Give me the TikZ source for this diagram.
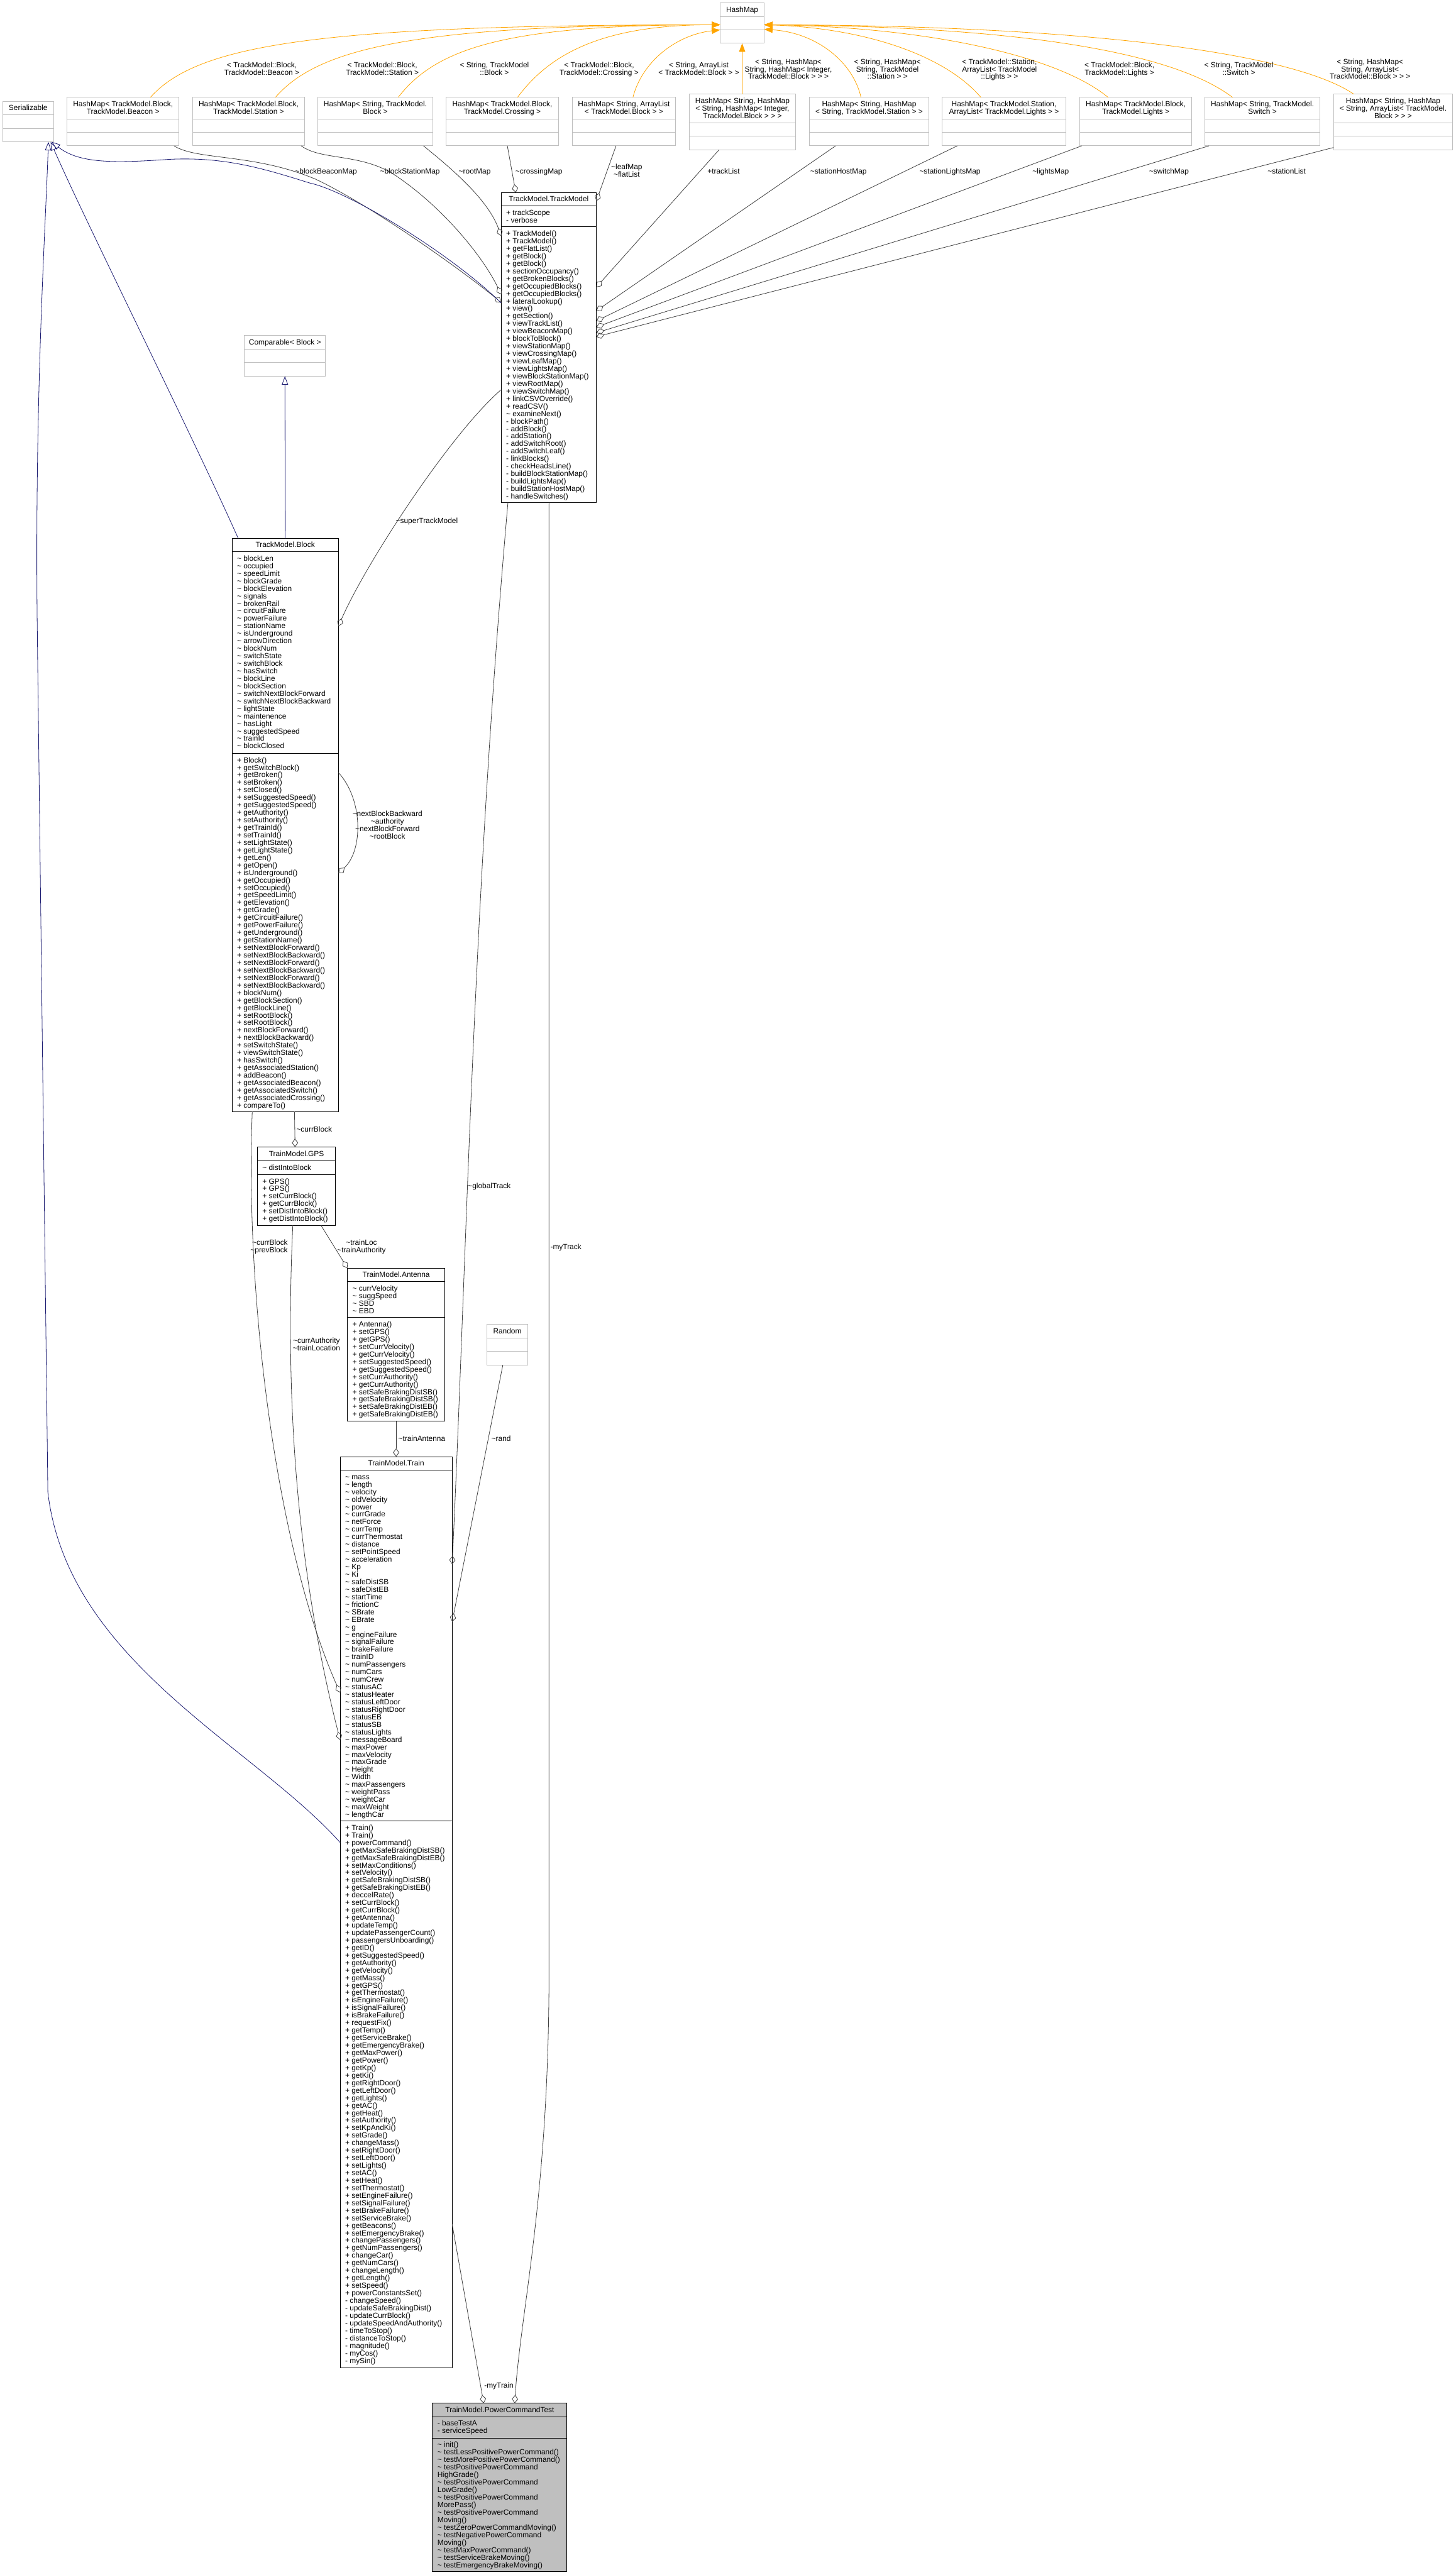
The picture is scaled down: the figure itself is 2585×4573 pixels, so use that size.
\documentclass[tikz,border=0pt]{standalone}
\usepackage{fontspec}
\setmainfont{Liberation Sans}
\usetikzlibrary{arrows.meta}
\definecolor{grey25}{HTML}{404040}
\definecolor{grey75}{HTML}{BFBFBF}
\definecolor{navy}{HTML}{191970}
\definecolor{orng}{HTML}{FFA500}
\newcommand\cf{\fontsize{13.3}{13.33}\selectfont}
\newcommand\Rs{\rule{0pt}{10.2pt}}
\newcommand\tl{\textasciitilde}
\newcommand\cbox[8]{%
 \node[#8, anchor=north west, minimum width=#4pt, minimum height={#7pt-#3pt}] (#1) at (#2,#3) {};
 \draw[#8 sep] (#2,#5) -- ++(#4,0);
 \draw[#8 sep] (#2,#6) -- ++(#4,0);
}
\newcommand\ctitle[5]{\node[txt, align=center, anchor=north] (#1) at (#2,{#3-(#4-1)*6.665-5.9}) {\Rs#5};}
\newcommand\csec[4]{\node[txt, align=left, anchor=north west] (#1) at ({#2+9},{#3+6.1}) {\Rs#4};}
\tikzset{
 txt/.style={font=\cf, inner sep=0pt, outer sep=0pt},
 doc/.style={draw=black, line width=1.1pt, fill=white, inner sep=0pt, outer sep=0pt},
 doc sep/.style={draw=black, line width=1.1pt},
 undoc/.style={draw=grey75, line width=1.1pt, fill=white, inner sep=0pt, outer sep=0pt},
 undoc sep/.style={draw=grey75, line width=1.1pt},
 tst/.style={draw=black, line width=1.1pt, fill=grey75, inner sep=0pt, outer sep=0pt},
 tst sep/.style={draw=black, line width=1.1pt},
 agg/.style={draw=grey25, line width=0.9pt, -{Diamond[open, length=15pt, width=11pt]}},
 gen/.style={draw=navy, line width=0.9pt, -{Triangle[open, length=15pt, width=11pt]}},
 tmpl/.style={draw=orng, line width=0.9pt, -{Triangle[length=15pt, width=11pt]}},
}
\begin{document}
\begin{tikzpicture}[x=1pt, y=-1pt]
\fill[white] (0,0) rectangle (2585,4573);
\useasboundingbox (0,0) rectangle (2585,4573);

% ---------- top row ----------
\cbox{hashmap}{1279}{5}{78}{30}{53.5}{77}{undoc}
\ctitle{hashmap-t}{1318}{17.5}{1}{HashMap}

\cbox{ser}{5}{180}{90}{204}{228}{252}{undoc}
\ctitle{ser-t}{50}{192}{1}{Serializable}

\cbox{hbeacon}{119}{173}{199}{211}{235}{259}{undoc}
\ctitle{hbeacon-t}{218.5}{192}{2}{HashMap< TrackModel.Block,\\TrackModel.Beacon >}
\cbox{hbstation}{342}{173}{199}{211}{235}{259}{undoc}
\ctitle{hbstation-t}{441.5}{192}{2}{HashMap< TrackModel.Block,\\TrackModel.Station >}
\cbox{hsblock}{564}{173}{205}{211}{235}{259}{undoc}
\ctitle{hsblock-t}{666.5}{192}{2}{HashMap< String, TrackModel.\\Block >}
\cbox{hcross}{792}{173}{200}{211}{235}{259}{undoc}
\ctitle{hcross-t}{892}{192}{2}{HashMap< TrackModel.Block,\\TrackModel.Crossing >}
\cbox{hsalist}{1016}{173}{184}{211}{235}{259}{undoc}
\ctitle{hsalist-t}{1108}{192}{2}{HashMap< String, ArrayList\\< TrackModel.Block > >}
\cbox{hshint}{1224}{167}{189}{218}{242}{266}{undoc}
\ctitle{hshint-t}{1318.5}{192.5}{3}{HashMap< String, HashMap\\< String, HashMap< Integer,\\TrackModel.Block > > >}
\cbox{hshstat}{1437}{173}{213}{211}{235}{259}{undoc}
\ctitle{hshstat-t}{1543.5}{192}{2}{HashMap< String, HashMap\\< String, TrackModel.Station > >}
\cbox{hstalights}{1673}{173}{220}{211}{235}{259}{undoc}
\ctitle{hstalights-t}{1783}{192}{2}{HashMap< TrackModel.Station,\\ArrayList< TrackModel.Lights > >}
\cbox{hblights}{1918}{173}{198}{211}{235}{259}{undoc}
\ctitle{hblights-t}{2017}{192}{2}{HashMap< TrackModel.Block,\\TrackModel.Lights >}
\cbox{hsswitch}{2140}{173}{204}{211}{235}{259}{undoc}
\ctitle{hsswitch-t}{2242}{192}{2}{HashMap< String, TrackModel.\\Switch >}
\cbox{hshalist}{2368}{167}{212}{218}{242}{266}{undoc}
\ctitle{hshalist-t}{2474}{192.5}{3}{HashMap< String, HashMap\\< String, ArrayList< TrackModel.\\Block > > >}

% ---------- TrackModel ----------
\cbox{tm}{890}{342}{169}{366}{403}{893}{doc}
\ctitle{tm-t}{974.5}{354}{1}{TrackModel.TrackModel}
\csec{tm-a}{890}{366}{+ trackScope\\- verbose}
\csec{tm-m}{890}{403}{+ TrackModel()\\+ TrackModel()\\+ getFlatList()\\+ getBlock()\\+ getBlock()\\+ sectionOccupancy()\\+ getBrokenBlocks()\\+ getOccupiedBlocks()\\+ getOccupiedBlocks()\\+ lateralLookup()\\+ view()\\+ getSection()\\+ viewTrackList()\\+ viewBeaconMap()\\+ blockToBlock()\\+ viewStationMap()\\+ viewCrossingMap()\\+ viewLeafMap()\\+ viewLightsMap()\\+ viewBlockStationMap()\\+ viewRootMap()\\+ viewSwitchMap()\\+ linkCSVOverride()\\+ readCSV()\\\tl{} examineNext()\\- blockPath()\\- addBlock()\\- addStation()\\- addSwitchRoot()\\- addSwitchLeaf()\\- linkBlocks()\\- checkHeadsLine()\\- buildBlockStationMap()\\- buildLightsMap()\\- buildStationHostMap()\\- handleSwitches()}

% ---------- Comparable ----------
\cbox{cmp}{434}{596}{144}{620}{644}{668}{undoc}
\ctitle{cmp-t}{506}{608}{1}{Comparable< Block >}

% ---------- Block ----------
\cbox{blk}{412}{956}{189}{980}{1338}{1974}{doc}
\ctitle{blk-t}{506.5}{968}{1}{TrackModel.Block}
\csec{blk-a}{412}{980}{\tl{} blockLen\\\tl{} occupied\\\tl{} speedLimit\\\tl{} blockGrade\\\tl{} blockElevation\\\tl{} signals\\\tl{} brokenRail\\\tl{} circuitFailure\\\tl{} powerFailure\\\tl{} stationName\\\tl{} isUnderground\\\tl{} arrowDirection\\\tl{} blockNum\\\tl{} switchState\\\tl{} switchBlock\\\tl{} hasSwitch\\\tl{} blockLine\\\tl{} blockSection\\\tl{} switchNextBlockForward\\\tl{} switchNextBlockBackward\\\tl{} lightState\\\tl{} maintenence\\\tl{} hasLight\\\tl{} suggestedSpeed\\\tl{} trainId\\\tl{} blockClosed}
\csec{blk-m}{412}{1338}{+ Block()\\+ getSwitchBlock()\\+ getBroken()\\+ setBroken()\\+ setClosed()\\+ setSuggestedSpeed()\\+ getSuggestedSpeed()\\+ getAuthority()\\+ setAuthority()\\+ getTrainId()\\+ setTrainId()\\+ setLightState()\\+ getLightState()\\+ getLen()\\+ getOpen()\\+ isUnderground()\\+ getOccupied()\\+ setOccupied()\\+ getSpeedLimit()\\+ getElevation()\\+ getGrade()\\+ getCircuitFailure()\\+ getPowerFailure()\\+ getUnderground()\\+ getStationName()\\+ setNextBlockForward()\\+ setNextBlockBackward()\\+ setNextBlockForward()\\+ setNextBlockBackward()\\+ setNextBlockForward()\\+ setNextBlockBackward()\\+ blockNum()\\+ getBlockSection()\\+ getBlockLine()\\+ setRootBlock()\\+ setRootBlock()\\+ nextBlockForward()\\+ nextBlockBackward()\\+ setSwitchState()\\+ viewSwitchState()\\+ hasSwitch()\\+ getAssociatedStation()\\+ addBeacon()\\+ getAssociatedBeacon()\\+ getAssociatedSwitch()\\+ getAssociatedCrossing()\\+ compareTo()}

% ---------- GPS ----------
\cbox{gps}{457}{2037}{139}{2061.5}{2086}{2176}{doc}
\ctitle{gps-t}{526.5}{2049.5}{1}{TrainModel.GPS}
\csec{gps-a}{457}{2061.5}{\tl{} distIntoBlock}
\csec{gps-m}{457}{2086}{+ GPS()\\+ GPS()\\+ setCurrBlock()\\+ getCurrBlock()\\+ setDistIntoBlock()\\+ getDistIntoBlock()}

% ---------- Antenna ----------
\cbox{ant}{617}{2252}{173}{2276}{2340}{2524}{doc}
\ctitle{ant-t}{703.5}{2264}{1}{TrainModel.Antenna}
\csec{ant-a}{617}{2276}{\tl{} currVelocity\\\tl{} suggSpeed\\\tl{} SBD\\\tl{} EBD}
\csec{ant-m}{617}{2340}{+ Antenna()\\+ setGPS()\\+ getGPS()\\+ setCurrVelocity()\\+ getCurrVelocity()\\+ setSuggestedSpeed()\\+ getSuggestedSpeed()\\+ setCurrAuthority()\\+ getCurrAuthority()\\+ setSafeBrakingDistSB()\\+ getSafeBrakingDistSB()\\+ setSafeBrakingDistEB()\\+ getSafeBrakingDistEB()}

% ---------- Random ----------
\cbox{rnd}{865}{2352}{72}{2376}{2400}{2424}{undoc}
\ctitle{rnd-t}{901}{2364}{1}{Random}

% ---------- Train ----------
\cbox{train}{604}{2587}{199}{2611}{3234}{4205}{doc}
\ctitle{train-t}{703.5}{2599}{1}{TrainModel.Train}
\csec{train-a}{604}{2611}{\tl{} mass\\\tl{} length\\\tl{} velocity\\\tl{} oldVelocity\\\tl{} power\\\tl{} currGrade\\\tl{} netForce\\\tl{} currTemp\\\tl{} currThermostat\\\tl{} distance\\\tl{} setPointSpeed\\\tl{} acceleration\\\tl{} Kp\\\tl{} Ki\\\tl{} safeDistSB\\\tl{} safeDistEB\\\tl{} startTime\\\tl{} frictionC\\\tl{} SBrate\\\tl{} EBrate\\\tl{} g\\\tl{} engineFailure\\\tl{} signalFailure\\\tl{} brakeFailure\\\tl{} trainID\\\tl{} numPassengers\\\tl{} numCars\\\tl{} numCrew\\\tl{} statusAC\\\tl{} statusHeater\\\tl{} statusLeftDoor\\\tl{} statusRightDoor\\\tl{} statusEB\\\tl{} statusSB\\\tl{} statusLights\\\tl{} messageBoard\\\tl{} maxPower\\\tl{} maxVelocity\\\tl{} maxGrade\\\tl{} Height\\\tl{} Width\\\tl{} maxPassengers\\\tl{} weightPass\\\tl{} weightCar\\\tl{} maxWeight\\\tl{} lengthCar}
\csec{train-m}{604}{3234}{+ Train()\\+ Train()\\+ powerCommand()\\+ getMaxSafeBrakingDistSB()\\+ getMaxSafeBrakingDistEB()\\+ setMaxConditions()\\+ setVelocity()\\+ getSafeBrakingDistSB()\\+ getSafeBrakingDistEB()\\+ deccelRate()\\+ setCurrBlock()\\+ getCurrBlock()\\+ getAntenna()\\+ updateTemp()\\+ updatePassengerCount()\\+ passengersUnboarding()\\+ getID()\\+ getSuggestedSpeed()\\+ getAuthority()\\+ getVelocity()\\+ getMass()\\+ getGPS()\\+ getThermostat()\\+ isEngineFailure()\\+ isSignalFailure()\\+ isBrakeFailure()\\+ requestFix()\\+ getTemp()\\+ getServiceBrake()\\+ getEmergencyBrake()\\+ getMaxPower()\\+ getPower()\\+ getKp()\\+ getKi()\\+ getRightDoor()\\+ getLeftDoor()\\+ getLights()\\+ getAC()\\+ getHeat()\\+ setAuthority()\\+ setKpAndKi()\\+ setGrade()\\+ changeMass()\\+ setRightDoor()\\+ setLeftDoor()\\+ setLights()\\+ setAC()\\+ setHeat()\\+ setThermostat()\\+ setEngineFailure()\\+ setSignalFailure()\\+ setBrakeFailure()\\+ setServiceBrake()\\+ getBeacons()\\+ setEmergencyBrake()\\+ changePassengers()\\+ getNumPassengers()\\+ changeCar()\\+ getNumCars()\\+ changeLength()\\+ getLength()\\+ setSpeed()\\+ powerConstantsSet()\\- changeSpeed()\\- updateSafeBrakingDist()\\- updateCurrBlock()\\- updateSpeedAndAuthority()\\- timeToStop()\\- distanceToStop()\\- magnitude()\\- myCos()\\- mySin()}

% ---------- PowerCommandTest ----------
\cbox{pct}{768}{4268}{239}{4292}{4330}{4567}{tst}
\ctitle{pct-t}{887.5}{4280}{1}{TrainModel.PowerCommandTest}
\csec{pct-a}{768}{4292}{- baseTestA\\- serviceSpeed}
\csec{pct-m}{768}{4330}{\tl{} init()\\\tl{} testLessPositivePowerCommand()\\\tl{} testMorePositivePowerCommand()\\\tl{} testPositivePowerCommand\\HighGrade()\\\tl{} testPositivePowerCommand\\LowGrade()\\\tl{} testPositivePowerCommand\\MorePass()\\\tl{} testPositivePowerCommand\\Moving()\\\tl{} testZeroPowerCommandMoving()\\\tl{} testNegativePowerCommand\\Moving()\\\tl{} testMaxPowerCommand()\\\tl{} testServiceBrakeMoving()\\\tl{} testEmergencyBrakeMoving()}

% ---------- template instance edges (orange) ----------
\draw[tmpl] ([xshift=148pt]hbeacon.north west) .. controls (350,80) and (560,44) .. ([yshift=-39pt]hashmap.north west);
\draw[tmpl] ([xshift=147pt]hbstation.north west) .. controls (565,85) and (740,44) .. ([yshift=-39pt]hashmap.north west);
\draw[tmpl] ([xshift=143pt]hsblock.north west) .. controls (775,85) and (900,44) .. ([yshift=-39pt]hashmap.north west);
\draw[tmpl] ([xshift=127pt]hcross.north west) .. controls (980,90) and (1080,44) .. ([yshift=-39pt]hashmap.north west);
\draw[tmpl] ([xshift=108pt]hsalist.north west) .. controls (1140,110) and (1200,62) .. ([yshift=-48pt]hashmap.north west);
\draw[tmpl] ([xshift=94pt]hshint.north west) -- (hashmap.south);
\draw[tmpl] ([xshift=92pt]hshstat.north west) .. controls (1515,110) and (1450,58) .. ([yshift=-47pt]hashmap.north east);
\draw[tmpl] ([xshift=69pt]hstalights.north west) .. controls (1680,100) and (1540,50) .. ([yshift=-39pt]hashmap.north east);
\draw[tmpl] ([xshift=50pt]hblights.north west) .. controls (1880,100) and (1650,48) .. ([yshift=-39pt]hashmap.north east);
\draw[tmpl] ([xshift=49pt]hsswitch.north west) .. controls (2080,90) and (1800,47) .. ([yshift=-39pt]hashmap.north east);
\draw[tmpl] ([xshift=36pt]hshalist.north west) .. controls (2290,90) and (1900,45) .. ([yshift=-39pt]hashmap.north east);

\ctitle{l-t1}{465}{122}{2}{< TrackModel::Block,\\TrackModel::Beacon >}
\ctitle{l-t2}{679}{122}{2}{< TrackModel::Block,\\TrackModel::Station >}
\ctitle{l-t3}{878}{122}{2}{< String, TrackModel\\::Block >}
\ctitle{l-t4}{1064}{122}{2}{< TrackModel::Block,\\TrackModel::Crossing >}
\ctitle{l-t5}{1241}{122}{2}{< String, ArrayList\\< TrackModel::Block > >}
\ctitle{l-t6}{1400}{123}{3}{< String, HashMap<\\String, HashMap< Integer,\\TrackModel::Block > > >}
\ctitle{l-t7}{1576}{123}{3}{< String, HashMap<\\String, TrackModel\\::Station > >}
\ctitle{l-t8}{1775}{123}{3}{< TrackModel::Station,\\ArrayList< TrackModel\\::Lights > >}
\ctitle{l-t9}{1988}{122}{2}{< TrackModel::Block,\\TrackModel::Lights >}
\ctitle{l-t10}{2200}{122}{2}{< String, TrackModel\\::Switch >}
\ctitle{l-t11}{2433}{123}{3}{< String, HashMap<\\String, ArrayList<\\TrackModel::Block > > >}

% ---------- aggregation edges into TrackModel ----------
\draw[agg] ([xshift=190pt]hbeacon.south west) .. controls (350,285) and (450,272) .. (560,318) .. controls (660,365) and (820,480) .. ([yshift=-195pt]tm.north west);
\draw[agg] ([xshift=193pt]hbstation.south west) .. controls (570,285) and (640,272) .. (700,310) .. controls (790,370) and (860,460) .. ([yshift=-181pt]tm.north west);
\draw[agg] ([xshift=188pt]hsblock.south west) .. controls (790,290) and (865,350) .. ([yshift=-77pt]tm.north west);
\draw[agg] ([xshift=109pt]hcross.south west) -- ([xshift=26pt]tm.north west);
\draw[agg] ([xshift=78pt]hsalist.south west) -- ([yshift=-15pt]tm.north east);
\draw[agg] ([xshift=53pt]hshint.south west) -- ([yshift=-168pt]tm.north east);
\draw[agg] ([xshift=47pt]hshstat.south west) -- ([yshift=-210pt]tm.north east);
\draw[agg] ([xshift=27pt]hstalights.south west) -- ([yshift=-228pt]tm.north east);
\draw[agg] ([xshift=3pt]hblights.south west) -- ([yshift=-239pt]tm.north east);
\draw[agg] ([xshift=7pt]hsswitch.south west) -- ([yshift=-249pt]tm.north east);
\draw[agg] ([yshift=4pt]hshalist.south west) -- ([yshift=-256pt]tm.north east);

\ctitle{l-bbm}{579}{304}{1}{\tl blockBeaconMap}
\ctitle{l-bsm}{728}{304}{1}{\tl blockStationMap}
\ctitle{l-root}{843}{304}{1}{\tl rootMap}
\ctitle{l-cross}{957}{304}{1}{\tl crossingMap}
\ctitle{l-leaf}{1113}{303.5}{2}{\tl leafMap\\\tl flatList}
\ctitle{l-track}{1285}{304}{1}{+trackList}
\ctitle{l-shm}{1489}{304}{1}{\tl stationHostMap}
\ctitle{l-slm}{1687}{304}{1}{\tl stationLightsMap}
\ctitle{l-lm}{1866}{304}{1}{\tl lightsMap}
\ctitle{l-sw}{2076}{304}{1}{\tl switchMap}
\ctitle{l-sl}{2285}{304}{1}{\tl stationList}

% ---------- generalisation edges (navy) ----------
\draw[gen] ([yshift=-196pt]tm.north west) .. controls (800,450) and (620,340) .. (550,325) .. controls (470,300) and (400,278) .. (300,283) .. controls (200,290) and (140,290) .. ([xshift=-3pt]ser.south east);
\draw[gen] ([xshift=11pt]blk.north west) .. controls (340,770) and (150,390) .. ([xshift=-5pt]ser.south east);
\draw[gen] ([yshift=-685pt]train.north west) .. controls (450,3100) and (120,2950) .. (85,2650) -- (66,1100) .. controls (62,700) and (80,420) .. ([xshift=-9pt]ser.south east);
\draw[gen] (blk.north) -- (cmp.south);

% ---------- lower aggregation edges ----------
\draw[agg] ([yshift=-350pt]tm.north west) .. controls (800,770) and (650,1000) .. ([yshift=-156pt]blk.north east);
\ctitle{l-stm}{758}{925}{1}{\tl superTrackModel}
\draw[agg] ([yshift=-416pt]blk.north east) .. controls (645,1420) and (645,1510) .. ([yshift=-595pt]blk.north east);
\ctitle{l-self}{688}{1465.5}{4}{\tl nextBlockBackward\\\tl authority\\\tl nextBlockForward\\\tl rootBlock}
\draw[agg] ([xshift=111pt]blk.south west) -- ([xshift=67pt]gps.north west);
\ctitle{l-cb}{558}{2006}{1}{\tl currBlock}
\draw[agg] ([xshift=36pt]blk.south west) .. controls (435,2300) and (490,2750) .. ([yshift=-419pt]train.north west);
\node[txt, align=right, anchor=north east] (l-cbpb) at (511,{2214-6.665-5.9}) {\Rs\tl currBlock\\\tl prevBlock};
\draw[agg] ([xshift=63pt]gps.south west) .. controls (505,2500) and (530,2800) .. ([yshift=-503pt]train.north west);
\ctitle{l-catl}{562}{2388}{2}{\tl currAuthority\\\tl trainLocation}
\draw[agg] ([xshift=113pt]gps.south west) -- (ant.north west);
\ctitle{l-tlta}{642}{2214}{2}{\tl trainLoc\\\tl trainAuthority}
\draw[agg] (ant.south) -- (train.north);
\ctitle{l-ta}{749}{2555}{1}{\tl trainAntenna}
\draw[agg] ([xshift=28pt]rnd.south west) -- ([yshift=-293pt]train.north east);
\ctitle{l-rand}{890}{2555}{1}{\tl rand}
\draw[agg] ([xshift=12pt]tm.south west) .. controls (840,1600) and (830,2200) .. ([yshift=-191pt]train.north east);
\ctitle{l-gt}{869}{2106}{1}{\tl globalTrack}
\draw[agg] ([xshift=85pt]tm.south west) -- (975,3500) .. controls (975,3900) and (925,4100) .. ([xshift=146pt]pct.north west);
\ctitle{l-mytrack}{1005}{2215}{1}{-myTrack}
\draw[agg] ([yshift=-1363pt]train.north east) -- ([xshift=91pt]pct.north west);
\ctitle{l-mytrain}{886}{4237}{1}{-myTrain}
\end{tikzpicture}
\end{document}
